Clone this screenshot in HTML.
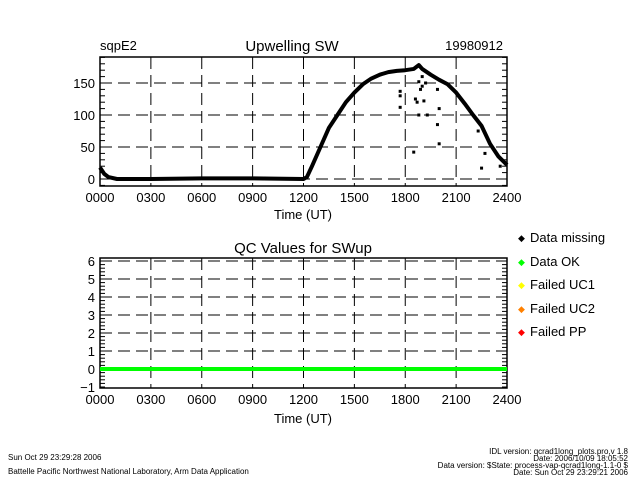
<!DOCTYPE html>
<html><head><meta charset="utf-8"><style>
body{margin:0;background:#fff;}
svg text{font-family:"Liberation Sans",sans-serif;fill:#000;}
</style></head><body>
<svg width="640" height="480" viewBox="0 0 640 480" xmlns="http://www.w3.org/2000/svg">
<g id="top"></g>
<g id="bot"></g>
<text x="100" y="50" font-size="13">sqpE2</text>
<text x="292" y="51" font-size="15" text-anchor="middle">Upwelling SW</text>
<text x="503" y="50" font-size="13" text-anchor="end">19980912</text>
<text x="303" y="219" font-size="13" text-anchor="middle">Time (UT)</text>
<text x="303" y="253" font-size="15" text-anchor="middle">QC Values for SWup</text>
<text x="303" y="423" font-size="13" text-anchor="middle">Time (UT)</text>
<g>
<g><text x="518" y="241" font-size="9" fill="#000">◆</text><text x="530" y="242" font-size="13">Data missing</text></g>
<g><text x="518" y="265" font-size="9" style="fill:#00ff00">◆</text><text x="530" y="266" font-size="13">Data OK</text></g>
<g><text x="518" y="288" font-size="9" style="fill:#ffff00">◆</text><text x="530" y="289" font-size="13">Failed UC1</text></g>
<g><text x="518" y="312" font-size="9" style="fill:#ff8000">◆</text><text x="530" y="313" font-size="13">Failed UC2</text></g>
<g><text x="518" y="335" font-size="9" style="fill:#ff0000">◆</text><text x="530" y="336" font-size="13">Failed PP</text></g>
</g>
<text x="8" y="460" font-size="8">Sun Oct 29 23:29:28 2006</text>
<text x="8" y="474" font-size="8">Battelle Pacific Northwest National Laboratory, Arm Data Application</text>
<g font-size="8" text-anchor="end">
<text x="628" y="454">IDL version: qcrad1long_plots.pro,v 1.8</text>
<text x="628" y="461">Date: 2006/10/09 18:05:52</text>
<text x="628" y="468">Data version: $State: process-vap-qcrad1long-1.1-0 $</text>
<text x="628" y="475">Date: Sun Oct 29 23:29:21 2006</text>
</g>
</svg>
<script>
const xTicks=["0000","0300","0600","0900","1200","1500","1800","2100","2400"];
const topYTicks=[0,50,100,150];
const botYTicks=[-1,0,1,2,3,4,5,6];
const lineHours=[0,0.25,0.5,1,3,6,9,12,12.2,12.5,13,13.5,14,14.5,15,15.5,16,16.5,17,17.5,18,18.5,18.8,19,19.5,20,20.5,21,21.5,22,22.5,23,23.5,24];
const lineValues=[18,8,3,0,0,1,1,0,3,20,50,80,100,120,135,148,157,163,167,169,170,172,178,172,163,155,148,135,118,100,83,55,35,22];
const scatterHours=[17.7,17.7,17.7,18.6,18.7,18.8,18.9,19,19.1,19.2,19,19.3,19.9,20,19.9,20,18.5,22.5,22.7,23.6,22.3,18.8];
const scatterValues=[137,130,112,125,120,100,140,145,122,150,160,100,140,110,85,55,42,17,40,20,75,152];
const qcHours=[0,24];
const qcValues=[0,0];
const NS="http://www.w3.org/2000/svg";
const X0=100,X1=507;
const xs=h=>X0+(X1-X0)*h/24;
const yTop=v=>179-0.64*v;
const yBot=v=>369-18*v;
function mk(p,tag,a){const e=document.createElementNS(NS,tag);for(const k in a)e.setAttribute(k,a[k]);p.appendChild(e);return e;}
function panel(g,top,bot,yf,ticks,minor,minStep,name){
  xTicks.forEach((t,i)=>{if(i>0&&i<8){const l=mk(g,'line',{x1:xs(i*3),x2:xs(i*3),y1:top,y2:bot,stroke:'#000','stroke-dasharray':'12,6'});
  
  }
  const tx=mk(g,'text',{x:xs(i*3),y:bot+16,'font-size':13,'text-anchor':'middle'});tx.textContent=t;
  
  });
  ticks.forEach(v=>{const y=yf(v);
    if(y>top+2&&y<bot-2){const l=mk(g,'line',{x1:X0,x2:X1,y1:y,y2:y,stroke:'#000','stroke-dasharray':'12,6'});
    
    }
    const t=mk(g,'text',{x:X0-5,y:y+5,'font-size':13,'text-anchor':'end'});t.textContent=v<0?'−'+(-v):v;
    
    });
  for(let v=minor[0];v<=minor[1]+1e-9;v+=minStep){const y=yf(v);if(y<top||y>bot)continue;
    mk(g,'line',{x1:X0,x2:X0+5,y1:y,y2:y,stroke:'#000'});mk(g,'line',{x1:X1-5,x2:X1,y1:y,y2:y,stroke:'#000'});}
  const r=mk(g,'rect',{x:X0,y:top,width:X1-X0,height:bot-top,fill:'none',stroke:'#000','stroke-width':1.5});
  
  
}
const gt=document.getElementById('top'),gb=document.getElementById('bot');
panel(gt,57,186,yTop,topYTicks,[-10,190],10,'top');
panel(gb,258,388,yBot,botYTicks,[-1.2,6.2],0.2,'bottom');
const pts=lineHours.map((h,i)=>xs(h)+','+yTop(lineValues[i])).join(' ');
const pl=mk(gt,'polyline',{points:pts,fill:'none',stroke:'#000','stroke-width':4,'stroke-linejoin':'round'});


scatterHours.forEach((h,i)=>{const r=mk(gt,'rect',{x:xs(h)-1.5,y:yTop(scatterValues[i])-1.5,width:3,height:3,fill:'#000'});

});
const ql=mk(gb,'line',{x1:xs(qcHours[0]),x2:xs(qcHours[1]),y1:yBot(qcValues[0]),y2:yBot(qcValues[1]),stroke:'#00ff00','stroke-width':4});


</script>
</body></html>
